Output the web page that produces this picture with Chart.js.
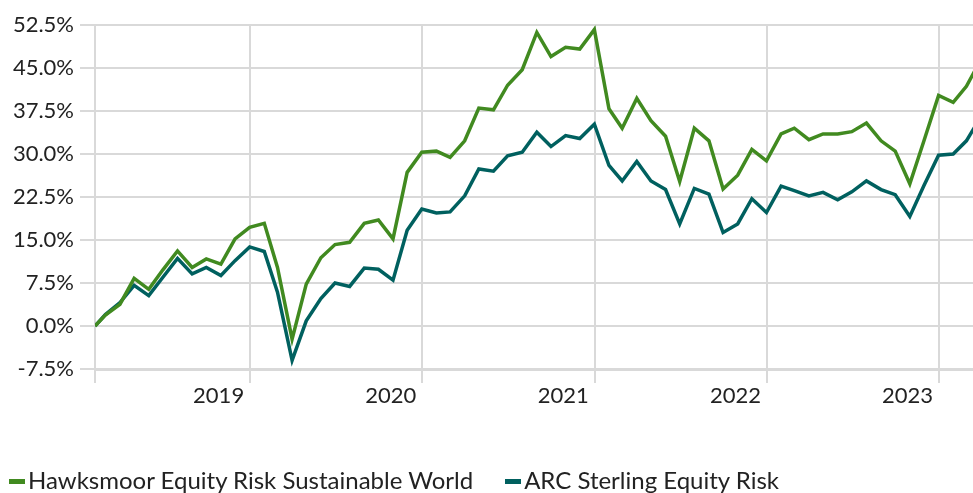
<!DOCTYPE html>
<html>
<head>
<meta charset="utf-8">
<script src="https://cdn.jsdelivr.net/npm/chart.js@4.4.1/dist/chart.umd.min.js"></script>
<style>
  html, body { margin: 0; padding: 0; background: #fff; }
  #wrap { position: relative; width: 973px; height: 493px; overflow: hidden; }
  #chart { position: absolute; left: 0; top: 0; }
  #legend { position: absolute; left: 9px; top: 468px; display: flex; align-items: center;
            font-family: Lato, sans-serif; font-size: 24px; line-height: 24px; color: #222; white-space: nowrap; }
  .item { display: flex; align-items: center; margin-right: 32px; }
  .sw { width: 16px; height: 5px; margin-right: 3px; margin-top: 2px; }
</style>
</head>
<body>
<div id="wrap">
  <canvas id="chart" width="973" height="493"></canvas>
  <div id="legend"></div>
</div>
<script>
const dates = [
  '2018-02-06','2018-02-28','2018-03-31','2018-04-30','2018-05-31','2018-06-30','2018-07-31','2018-08-31','2018-09-30','2018-10-31','2018-11-30','2018-12-31',
  '2019-01-31','2019-02-28','2019-03-31','2019-04-30','2019-05-31','2019-06-30','2019-07-31','2019-08-31','2019-09-30','2019-10-31','2019-11-30','2019-12-31',
  '2020-01-31','2020-02-29','2020-03-31','2020-04-30','2020-05-31','2020-06-30','2020-07-31','2020-08-31','2020-09-30','2020-10-31','2020-11-30','2020-12-31',
  '2021-01-31','2021-02-28','2021-03-31','2021-04-30','2021-05-31','2021-06-30','2021-07-31','2021-08-31','2021-09-30','2021-10-31','2021-11-30','2021-12-31',
  '2022-01-31','2022-02-28','2022-03-31','2022-04-30','2022-05-31','2022-06-30','2022-07-31','2022-08-31','2022-09-30','2022-10-31','2022-11-30','2022-12-31',
  '2023-01-31','2023-02-28','2023-03-31'
];

const hawksmoor = [
  0, 1.9, 3.8, 8.3, 6.4, 9.8, 13.1, 10.2, 11.7, 10.8, 15.2, 17.2,
  17.9, 10.2, -2.3, 7.3, 11.9, 14.2, 14.6, 17.9, 18.5, 15.2, 26.8, 30.3,
  30.5, 29.4, 32.3, 38.0, 37.7, 42.0, 44.7, 51.2, 47.0, 48.6, 48.3, 51.7,
  37.9, 34.5, 39.7, 35.8, 33.1, 25.2, 34.5, 32.3, 23.9, 26.3, 30.8, 28.8,
  33.5, 34.5, 32.5, 33.5, 33.5, 33.9, 35.4, 32.3, 30.5, 24.8, 32.3, 40.2,
  39.0, 41.8, 46.5
];

const arc = [
  0, 2.0, 4.1, 7.1, 5.3, 8.5, 11.8, 9.1, 10.2, 8.8, 11.4, 13.8,
  13.0, 5.9, -6.0, 0.9, 4.8, 7.5, 6.9, 10.1, 9.9, 8.0, 16.7, 20.4,
  19.7, 19.9, 22.7, 27.4, 27.0, 29.7, 30.3, 33.8, 31.3, 33.2, 32.7, 35.2,
  28.0, 25.3, 28.7, 25.3, 23.8, 17.8, 24.0, 23.0, 16.3, 17.8, 22.2, 19.8,
  24.4, 23.6, 22.7, 23.3, 22.0, 23.4, 25.3, 23.8, 22.9, 19.1, 24.5, 29.8,
  30.0, 32.3, 36.5
];

const seriesNames = ['Hawksmoor Equity Risk Sustainable World', 'ARC Sterling Equity Risk'];
const seriesColors = ['#418a20', '#00605f'];
const yearTicks = ['2019-01-01', '2020-01-01', '2021-01-01', '2022-01-01', '2023-01-01'];
const xStart = '2018-02-06';
const xEnd = '2023-03-14';
const yMin = -7.5, yMax = 52.5, yStep = 7.5;

const toPts = arr => arr.map((v, i) => ({ x: Date.parse(dates[i]), y: v }));
const gridColor = '#d9d9d9';
const tickFont = { family: 'Lato', size: 22 };

const chart = new Chart(document.getElementById('chart'), {
  type: 'line',
  data: {
    datasets: [
      { label: seriesNames[0], data: toPts(hawksmoor), borderColor: seriesColors[0], backgroundColor: seriesColors[0] },
      { label: seriesNames[1], data: toPts(arc), borderColor: seriesColors[1], backgroundColor: seriesColors[1] }
    ]
  },
  options: {
    responsive: false,
    animation: false,
    events: [],
    layout: { padding: { top: 25, right: 0, bottom: 0, left: 0 } },
    elements: {
      line: { borderWidth: 3.5, tension: 0, borderJoinStyle: 'miter' },
      point: { radius: 0 }
    },
    plugins: { legend: { display: false }, tooltip: { enabled: false } },
    scales: {
      x: {
        type: 'linear',
        min: Date.parse(xStart),
        max: Date.parse(xEnd),
        afterBuildTicks: s => { s.ticks = [{ value: Date.parse(xStart) }].concat(yearTicks.map(d => ({ value: Date.parse(d) }))); },
        afterFit: s => { s.height = 124; },
        grid: { color: gridColor, lineWidth: 2, tickLength: 14, drawTicks: true },
        border: { display: true, color: gridColor, width: 3 },
        ticks: {
          font: tickFont, color: '#222', align: 'end', labelOffset: -6, padding: 0,
          maxRotation: 0, autoSkip: false,
          callback: v => v === Date.parse(xStart) ? '' : String(new Date(v).getUTCFullYear())
        }
      },
      y: {
        min: yMin, max: yMax,
        afterFit: s => { s.width = 95; },
        grid: { color: gridColor, lineWidth: 2, tickLength: 15 },
        border: { display: false },
        ticks: {
          stepSize: yStep, font: tickFont, color: '#222', padding: 6,
          callback: v => v.toFixed(1) + '%'
        }
      }
    }
  }
});

const legend = document.getElementById('legend');
chart.data.datasets.forEach(ds => {
  const item = document.createElement('div');
  item.className = 'item';
  const sw = document.createElement('span');
  sw.className = 'sw';
  sw.style.background = ds.borderColor;
  const tx = document.createElement('span');
  tx.textContent = ds.label;
  item.appendChild(sw);
  item.appendChild(tx);
  legend.appendChild(item);
});
</script>
</body>
</html>
